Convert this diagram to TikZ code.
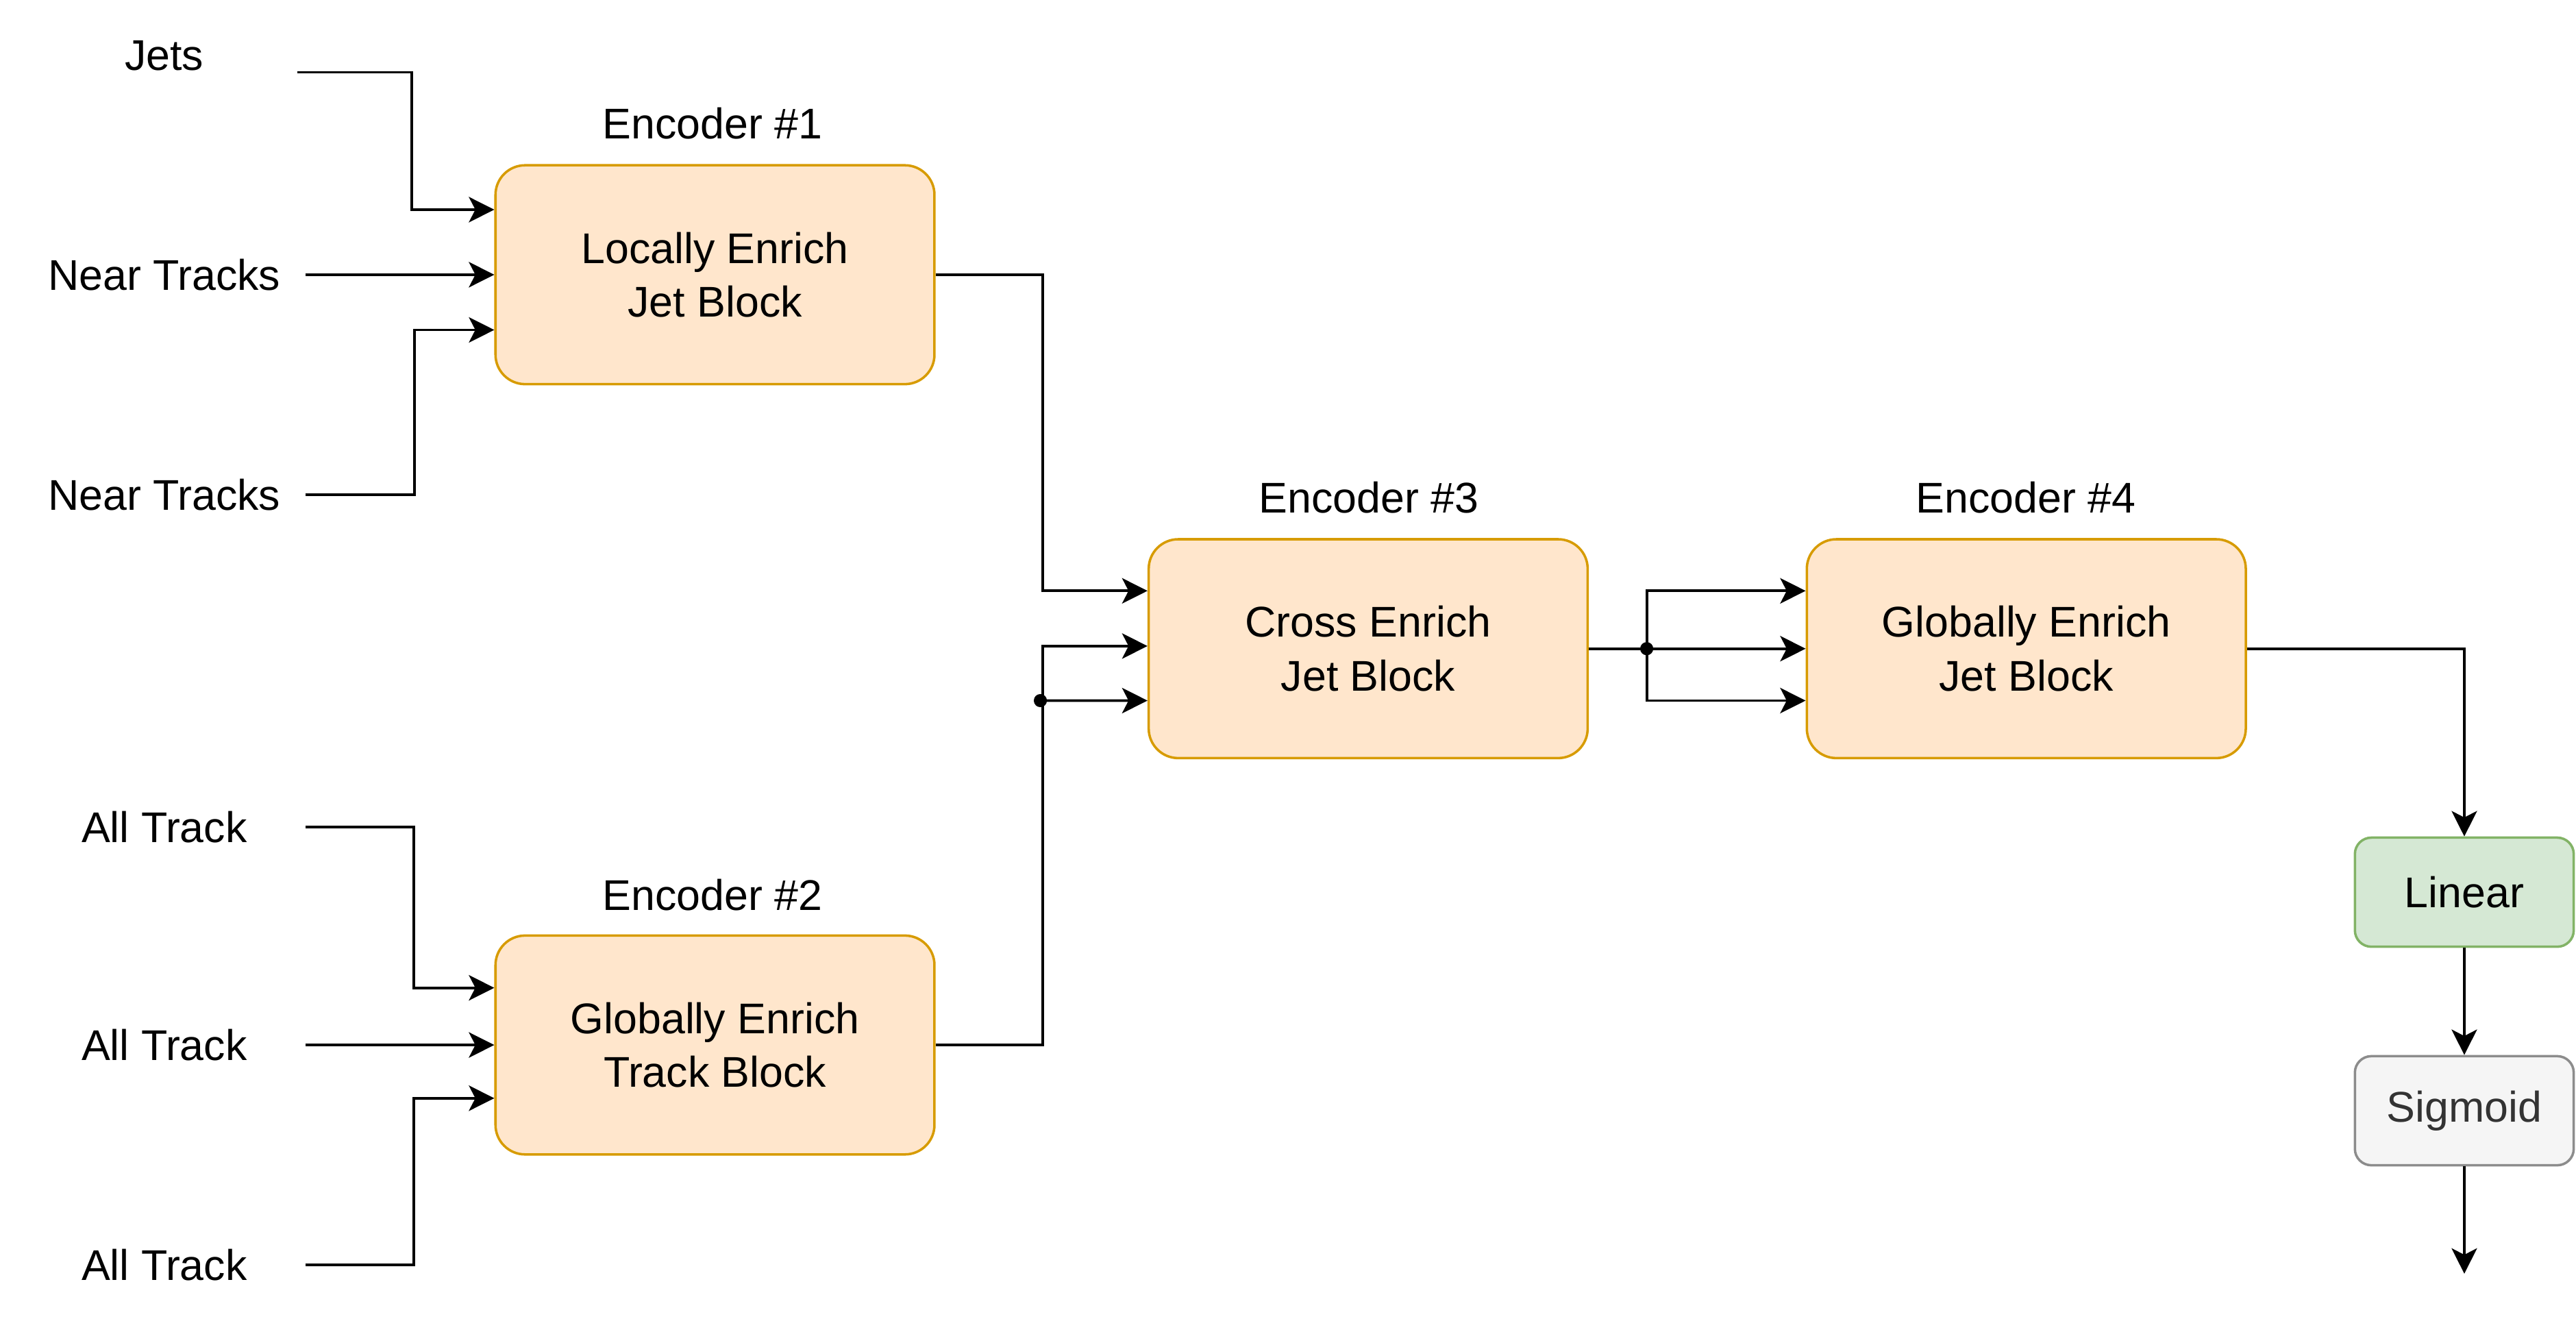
\documentclass[tikz,border=0pt]{standalone}
\usepackage{fontspec}
\setmainfont{Liberation Sans}
\usetikzlibrary{arrows.meta,calc,positioning}
\definecolor{encfill}{HTML}{FFE6CC}
\definecolor{encline}{HTML}{D79B00}
\definecolor{linfill}{HTML}{D5E8D4}
\definecolor{linline}{HTML}{82B366}
\definecolor{sigfill}{HTML}{F5F5F5}
\definecolor{sigline}{HTML}{8C8C8C}
\definecolor{sigtext}{HTML}{333333}
\tikzstyle{block} = [rectangle, rounded corners=0.45cm, minimum width=6.68cm, minimum height=3.33cm, align=center, draw=encline, fill=encfill, line width=1.05pt]
\tikzstyle{small} = [rectangle, rounded corners=0.25cm, minimum width=3.33cm, minimum height=1.66cm, line width=1.05pt]
\tikzstyle{src} = [minimum width=4.25cm, inner sep=0pt]
\tikzstyle{dot} = [circle, fill=black, inner sep=0pt, minimum size=0.2cm]
\tikzstyle{arrow} = [-{Stealth[length=11pt,width=11pt,inset=2.8pt]}]
\begin{document}
\begin{tikzpicture}[line width=1.15pt, font=\fontsize{18.6}{23.3}\selectfont]
      \useasboundingbox (0,0) rectangle (39.2,20.06);
      % inputs
      \node[src, minimum width=4cm] (jets) at (2.5,19.21) {Jets};
      \node[src] (nt1) at (2.5,15.88) {Near Tracks};
      \node[src] (nt2) at (2.5,12.53) {Near Tracks};
      \node[src] (at1) at (2.5,7.48) {All Track};
      \node[src] (at2) at (2.5,4.16) {All Track};
      \node[src] (at3) at (2.5,0.81) {All Track};
      % encoders
      \node[block] (b1) at (10.88,15.88) {Locally Enrich\\Jet Block};
      \node[block] (b2) at (10.88,4.16) {Globally Enrich\\Track Block};
      \node[block] (b3) at (20.82,10.19) {Cross Enrich\\Jet Block};
      \node[block] (b4) at (30.835,10.19) {Globally Enrich\\Jet Block};
      \node (e1) at (10.84,18.18) {Encoder \#1};
      \node (e2) at (10.84,6.44) {Encoder \#2};
      \node (e3) at (20.83,12.49) {Encoder \#3};
      \node (e4) at (30.83,12.49) {Encoder \#4};
      % head
      \node[small, draw=linline, fill=linfill] (lin) at (37.5,6.485) {Linear};
      \node[small, draw=sigline, fill=sigfill, text=sigtext] (sig) at (37.5,3.16) {Sigmoid};
      \coordinate (out) at (37.5,0.68);
      \node[dot] (j1) at ($(b3.west)+(-1.63,-0.79)$) {};
      \node[dot] (j2) at ($(b3.east)+(0.88,0)$) {};
      % encoder 1
      \draw[arrow] ([yshift=-0.25cm]jets.east) -- ++(1.75,0) |- ([yshift=0.99cm]b1.west);
      \draw[arrow] (nt1) -- (b1);
      \draw[arrow] (nt2.east) -- ++(1.665,0) |- ([yshift=-0.84cm]b1.west);
      % encoder 2
      \draw[arrow] (at1.east) -- ++(1.65,0) |- ([yshift=0.87cm]b2.west);
      \draw[arrow] (at2) -- (b2);
      \draw[arrow] (at3.east) -- ++(1.65,0) |- ([yshift=-0.81cm]b2.west);
      % encoder 3
      \draw[arrow] (b1.east) -- ++(1.63,0) |- ([yshift=0.88cm]b3.west);
      \draw[arrow] (b2.east) -- ++(1.63,0) |- ([yshift=0.04cm]b3.west);
      \draw[arrow] (j1.center) -- ([yshift=-0.79cm]b3.west);
      % encoder 4
      \draw (b3.east) -- (j2.center);
      \draw[arrow] (j2.center) -- (b4.west);
      \draw[arrow] (j2.center) |- ([yshift=0.88cm]b4.west);
      \draw[arrow] (j2.center) |- ([yshift=-0.79cm]b4.west);
      % output
      \draw[arrow] (b4.east) -| (lin.north);
      \draw[arrow] (lin) -- (sig);
      \draw[arrow] (sig) -- (out);
\end{tikzpicture}
\end{document}
